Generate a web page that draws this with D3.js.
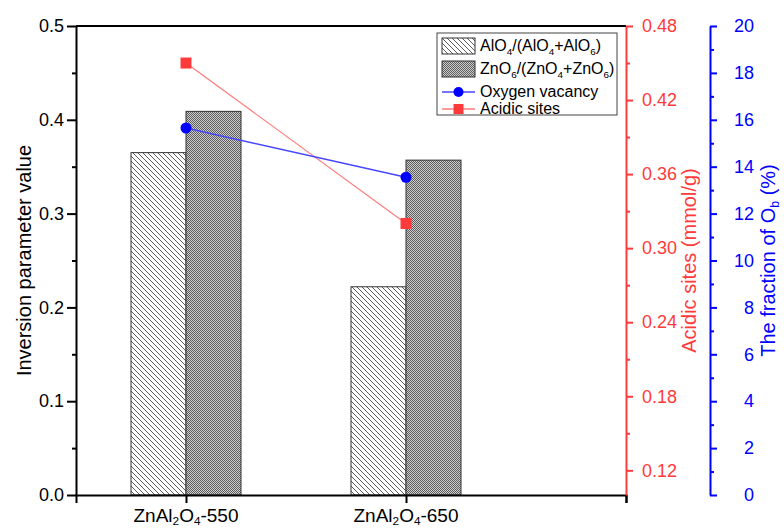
<!DOCTYPE html>
<html lang="en">
<head>
    <meta charset="UTF-8">
    <title>Inversion parameter, oxygen vacancy and acidic sites</title>
    <script src="https://d3js.org/d3.v7.min.js"></script>
    <style>
        body { margin: 0; background: #ffffff; }
        svg { display: block; font-family: "Liberation Sans", Arial, sans-serif; }
    </style>
</head>
<body>
    <svg width="784" height="528"></svg>

    <script>
        // data
        const muestras = [1, 2];
        const etiquetasX = [
            [["ZnAl", 0], ["2", 1], ["O", 0], ["4", 1], ["-550", 0]],
            [["ZnAl", 0], ["2", 1], ["O", 0], ["4", 1], ["-650", 0]]
        ];
        const aloTetra = [0.365, 0.222];     // AlO4/(AlO4+AlO6)
        const znoOcta = [0.409, 0.357];      // ZnO6/(ZnO4+ZnO6)
        const vacancia = [15.65, 13.55];     // fraction of Ob (%)
        const acidez = [0.450, 0.320];       // mmol/g

        const ticksIzq = [0, 0.1, 0.2, 0.3, 0.4, 0.5];
        const ticksRojo = [0.12, 0.18, 0.24, 0.30, 0.36, 0.42, 0.48];
        const ticksAzul = [0, 2, 4, 6, 8, 10, 12, 14, 16, 18, 20];

        const svg = d3.select("svg");
        const izq = 76, der = 626, arriba = 26, abajo = 495;
        const rojo = "#ff3a3a", azul = "#0000ff";
        const tamTick = 18;

        const x = d3.scaleLinear().domain([0.5, 3.0]).range([izq, der]);
        const y = d3.scaleLinear().domain([0, 0.5]).range([abajo, arriba]);
        const yRojo = d3.scaleLinear().domain([0.10, 0.48]).range([abajo, arriba]);
        const yAzul = d3.scaleLinear().domain([0, 20]).range([abajo, arriba]);
        const anchoBarra = 0.25;

        // texto con subindices
        function textoRico(sel, partes, tam, baja) {
            const b = baja === undefined ? 0.28 : baja;
            partes.forEach(([t, sub], i) => {
                const prev = i > 0 ? partes[i - 1][1] : 0;
                sel.append("tspan")
                    .attr("font-size", sub ? tam * 0.62 : tam)
                    .attr("dy", sub && !prev ? tam * b : (!sub && prev ? -tam * b : 0))
                    .text(t);
            });
        }

        // patrones
        const defs = svg.append("defs");
        const rayado = defs.append("pattern")
            .attr("id", "rayado")
            .attr("patternUnits", "userSpaceOnUse")
            .attr("width", 5).attr("height", 5);
        rayado.append("rect").attr("width", 5).attr("height", 5).attr("fill", "#fff");
        rayado.append("path")
            .attr("d", "M-1,-1 L6,6 M-1,4 L1,6 M4,-1 L6,1")
            .attr("stroke", "#333").attr("stroke-width", 0.8);

        const tramado = defs.append("pattern")
            .attr("id", "tramado")
            .attr("patternUnits", "userSpaceOnUse")
            .attr("width", 2).attr("height", 2);
        tramado.append("rect").attr("width", 2).attr("height", 2).attr("fill", "#cccccc");
        tramado.append("rect").attr("width", 1).attr("height", 1).attr("fill", "#5e5e5e");
        tramado.append("rect").attr("x", 1).attr("y", 1).attr("width", 1).attr("height", 1).attr("fill", "#5e5e5e");

        // barras
        svg.selectAll(".barra-al")
            .data(muestras)
            .join("rect")
            .attr("class", "barra-al")
            .attr("x", d => x(d - anchoBarra))
            .attr("y", (d, i) => y(aloTetra[i]))
            .attr("width", x(anchoBarra) - x(0))
            .attr("height", (d, i) => abajo - y(aloTetra[i]))
            .attr("fill", "url(#rayado)")
            .attr("stroke", "#333").attr("stroke-width", 1);

        svg.selectAll(".barra-zn")
            .data(muestras)
            .join("rect")
            .attr("class", "barra-zn")
            .attr("x", d => x(d))
            .attr("y", (d, i) => y(znoOcta[i]))
            .attr("width", x(anchoBarra) - x(0))
            .attr("height", (d, i) => abajo - y(znoOcta[i]))
            .attr("fill", "url(#tramado)")
            .attr("stroke", "#333").attr("stroke-width", 1);

        // lineas
        svg.append("path")
            .datum(muestras)
            .attr("fill", "none")
            .attr("stroke", "#ff7a7a").attr("stroke-width", 1.2)
            .attr("d", d3.line().x(d => x(d)).y((d, i) => yRojo(acidez[i])));

        svg.append("path")
            .datum(muestras)
            .attr("fill", "none")
            .attr("stroke", "#4646ff").attr("stroke-width", 1.5)
            .attr("d", d3.line().x(d => x(d)).y((d, i) => yAzul(vacancia[i])));

        svg.selectAll(".pto-rojo")
            .data(muestras)
            .join("rect")
            .attr("class", "pto-rojo")
            .attr("x", d => x(d) - 5.5)
            .attr("y", (d, i) => yRojo(acidez[i]) - 5.5)
            .attr("width", 11).attr("height", 11)
            .attr("fill", "#ff3a3a");

        svg.selectAll(".pto-azul")
            .data(muestras)
            .join("circle")
            .attr("class", "pto-azul")
            .attr("cx", d => x(d))
            .attr("cy", (d, i) => yAzul(vacancia[i]))
            .attr("r", 5.5)
            .attr("fill", azul);

        // marco superior
        svg.append("line")
            .attr("x1", izq).attr("x2", der).attr("y1", arriba).attr("y2", arriba)
            .attr("stroke", "#000").attr("stroke-width", 2);

        // eje x
        const ejeX = svg.append("g").attr("transform", `translate(0,${abajo})`)
            .call(d3.axisBottom(x).tickValues([1, 2, 3]).tickSize(8).tickFormat(""));
        ejeX.select(".domain").attr("stroke-width", 2);
        ejeX.selectAll(".tick line").attr("stroke-width", 2);

        muestras.forEach((m, i) => {
            const t = svg.append("text")
                .attr("x", x(m)).attr("y", 522)
                .attr("text-anchor", "middle")
                .attr("fill", "#000");
            textoRico(t, etiquetasX[i], 19, 0.16);
        });

        // eje izquierdo
        const ejeIzq = svg.append("g").attr("transform", `translate(${izq},0)`)
            .call(d3.axisLeft(y).tickValues(ticksIzq).tickSize(9).tickSizeOuter(0).tickPadding(3)
                .tickFormat(d3.format(".1f")));
        ejeIzq.select(".domain").attr("stroke-width", 2);
        ejeIzq.selectAll(".tick line").attr("stroke-width", 2);
        ejeIzq.selectAll("text").attr("font-size", tamTick).attr("font-family", null).attr("fill", "#000");
        svg.append("g").attr("transform", `translate(${izq},0)`)
            .call(d3.axisLeft(y).tickValues(d3.range(0.05, 0.5, 0.1)).tickSize(4).tickFormat(""))
            .call(g => g.select(".domain").remove())
            .selectAll(".tick line").attr("stroke-width", 2);

        svg.append("text")
            .attr("transform", `translate(31,${(arriba + abajo) / 2}) rotate(-90)`)
            .attr("text-anchor", "middle")
            .attr("font-size", 20)
            .text("Inversion parameter value");

        // eje rojo
        const ejeRojo = svg.append("g").attr("transform", `translate(${der},0)`)
            .call(d3.axisRight(yRojo).tickValues(ticksRojo).tickSize(7).tickSizeOuter(0).tickPadding(9)
                .tickFormat(d3.format(".2f")));
        ejeRojo.select(".domain").attr("stroke", rojo).attr("stroke-width", 2);
        ejeRojo.selectAll(".tick line").attr("stroke", rojo).attr("stroke-width", 2);
        ejeRojo.selectAll("text").attr("font-size", tamTick).attr("font-family", null).attr("fill", rojo);
        svg.append("g").attr("transform", `translate(${der},0)`)
            .call(d3.axisRight(yRojo).tickValues([0.15, 0.21, 0.27, 0.33, 0.39, 0.45]).tickSize(4).tickFormat(""))
            .call(g => g.select(".domain").remove())
            .selectAll(".tick line").attr("stroke", rojo).attr("stroke-width", 2);

        svg.append("text")
            .attr("transform", `translate(696,${(arriba + abajo) / 2}) rotate(-90)`)
            .attr("text-anchor", "middle")
            .attr("font-size", 20)
            .attr("fill", rojo)
            .text("Acidic sites (mmol/g)");

        // eje azul
        const xAzul = 710;
        const ejeAzul = svg.append("g").attr("transform", `translate(${xAzul},0)`)
            .call(d3.axisRight(yAzul).tickValues(ticksAzul).tickSize(7).tickSizeOuter(0).tickPadding(8));
        ejeAzul.select(".domain").attr("stroke", azul).attr("stroke-width", 2);
        ejeAzul.selectAll(".tick line").attr("stroke", azul).attr("stroke-width", 2);
        ejeAzul.selectAll("text").attr("font-size", tamTick).attr("font-family", null).attr("fill", azul)
            .attr("text-anchor", "end").attr("x", 44);
        svg.append("g").attr("transform", `translate(${xAzul},0)`)
            .call(d3.axisRight(yAzul).tickValues(d3.range(1, 20, 2)).tickSize(4).tickFormat(""))
            .call(g => g.select(".domain").remove())
            .selectAll(".tick line").attr("stroke", azul).attr("stroke-width", 2);

        const tituloAzul = svg.append("text")
            .attr("transform", `translate(775,${(arriba + abajo) / 2}) rotate(-90)`)
            .attr("text-anchor", "middle")
            .attr("fill", azul);
        textoRico(tituloAzul, [["The fraction of O", 0], ["b", 1], [" (%)", 0]], 20, 0.2);

        // leyenda
        const ley = svg.append("g").attr("transform", "translate(437,33)");
        ley.append("rect")
            .attr("width", 180).attr("height", 82)
            .attr("fill", "#fff").attr("stroke", "#444").attr("stroke-width", 1);

        const filasLeyenda = [
            { tipo: "rayado", y: 13, partes: [["AlO", 0], ["4", 1], ["/(AlO", 0], ["4", 1], ["+AlO", 0], ["6", 1], [")", 0]] },
            { tipo: "tramado", y: 36, partes: [["ZnO", 0], ["6", 1], ["/(ZnO", 0], ["4", 1], ["+ZnO", 0], ["6", 1], [")", 0]] },
            { tipo: "azul", y: 59, partes: [["Oxygen vacancy", 0]] },
            { tipo: "rojo", y: 76, partes: [["Acidic sites", 0]] }
        ];

        filasLeyenda.forEach(f => {
            if (f.tipo === "rayado" || f.tipo === "tramado") {
                ley.append("rect")
                    .attr("x", 5).attr("y", f.y - 8)
                    .attr("width", 33).attr("height", 16)
                    .attr("fill", `url(#${f.tipo})`)
                    .attr("stroke", "#333").attr("stroke-width", 1);
            } else {
                const col = f.tipo === "azul" ? "#4646ff" : "#ff7a7a";
                ley.append("line")
                    .attr("x1", 5).attr("x2", 38).attr("y1", f.y).attr("y2", f.y)
                    .attr("stroke", col).attr("stroke-width", 1.5);
                if (f.tipo === "azul") {
                    ley.append("circle").attr("cx", 21.5).attr("cy", f.y).attr("r", 5).attr("fill", azul);
                } else {
                    ley.append("rect").attr("x", 16.5).attr("y", f.y - 5)
                        .attr("width", 10).attr("height", 10).attr("fill", "#ff3a3a");
                }
            }
            const t = ley.append("text")
                .attr("x", 43).attr("y", f.y + 5)
                .attr("fill", "#000");
            textoRico(t, f.partes, 16, 0.25);
        });
    </script>
</body>
</html>
